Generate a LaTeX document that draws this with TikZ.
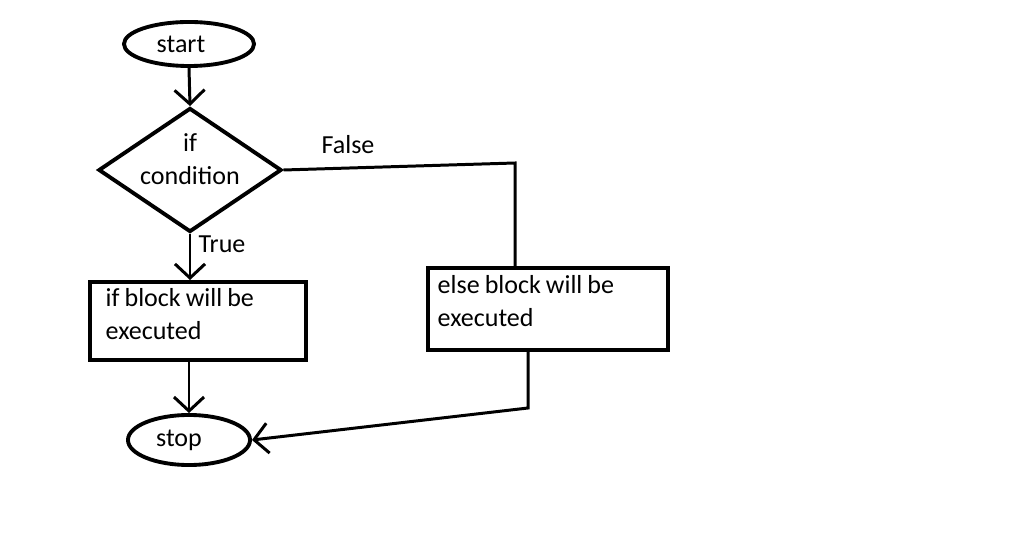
\documentclass[tikz,border=0pt]{standalone}
\usepackage{fontspec}
\setmainfont{Carlito}[WordSpace=0.85]
\usetikzlibrary{positioning,arrows.meta,shapes.geometric}

\begin{document}
\begin{tikzpicture}[x=0.01cm,y=-0.01cm,
      txt/.style={font=\fontsize{7.4}{9.4}\selectfont,inner sep=0pt},
      term/.style={txt,ellipse,draw,line width=1.1pt},
      decide/.style={diamond,draw,line width=1.1pt,inner sep=0pt,aspect=1.48},
      block/.style={rectangle,draw,line width=1.1pt,anchor=north west},
      blocktxt/.style={txt,align=left,anchor=north west},
      flow/.style={line width=0.85pt,-{Straight Barb[length=1.4mm,width=3mm]}},
      wire/.style={line width=0.85pt}]
    \useasboundingbox (0,0) rectangle (1016,549);
    \node[term,minimum width=1.3cm,minimum height=0.44cm] (start) at (189,44) {start\kern0.16cm};
    \node[decide,minimum width=1.83cm,minimum height=1.24cm] (cond) at (190,170) {};
    \node[txt,align=center] (condtxt) at (190,159) {if\\condition};
    \node[block,minimum width=2.16cm,minimum height=0.78cm] (ifb) at (88,280) {};
    \node[blocktxt] (ifbtxt) at (105,288) {if block will be\\executed};
    \node[block,minimum width=2.4cm,minimum height=0.82cm] (elseb) at (426,266) {};
    \node[blocktxt] (elsebtxt) at (437,275) {else block will be\\executed};
    \node[term,minimum width=1.22cm,minimum height=0.5cm] (stop) at (189,440) {stop\kern0.2cm};
    \coordinate (fk) at (515,163);
    \coordinate (ek) at (528,408);
    \draw[flow] (start.south) -- (cond.north);
    \draw[wire] (cond.east) -- (fk) -- (fk |- elseb.north);
    \draw[flow] (cond.south) -- (cond.south |- ifb.north);
    \draw[flow] (stop.north |- ifb.south) -- (stop.north);
    \draw[flow] (ek |- elseb.south) -- (ek) -- (stop.east);
    \node[txt] (flabel) at (348,145) {False};
    \node[txt] (tlabel) at (222,244) {True};
  \end{tikzpicture}
\end{document}
